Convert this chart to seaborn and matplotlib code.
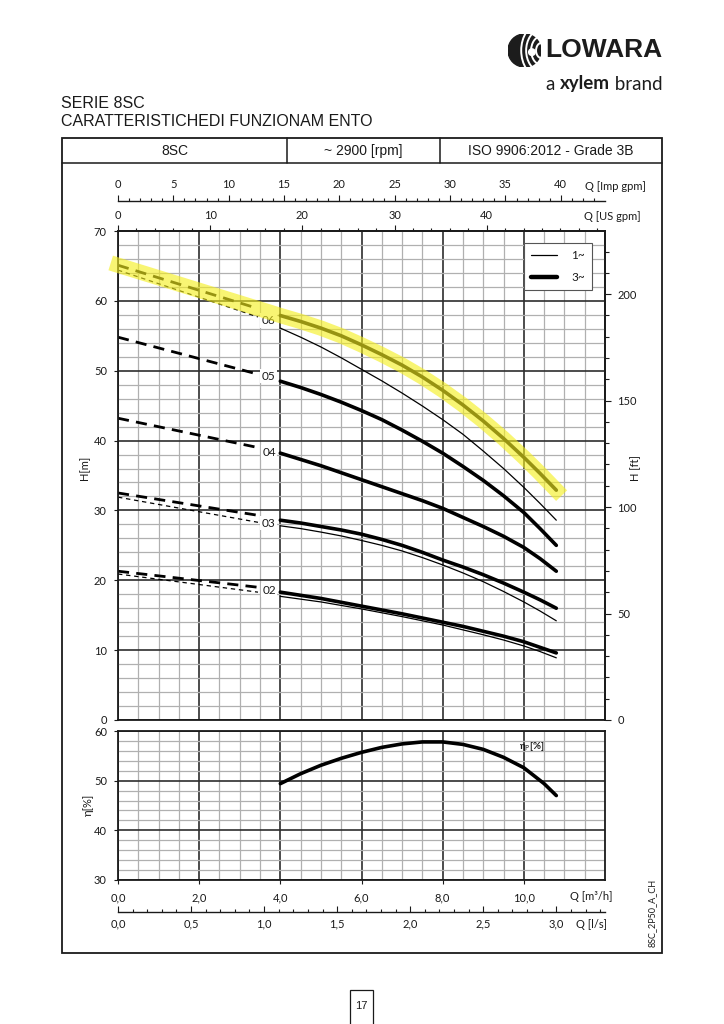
import numpy as np
import pandas as pd
import matplotlib
matplotlib.use("Agg")
import matplotlib.pyplot as plt
import seaborn as sns
from matplotlib.patches import Rectangle, Circle, Arc
from matplotlib.lines import Line2D
from matplotlib.ticker import MultipleLocator, FixedLocator, FixedFormatter

# ---------------- data ----------------
Q_SOLID = [4.0, 4.5, 5.0, 5.5, 6.0, 6.5, 7.0, 7.5, 8.0, 8.5, 9.0, 9.5, 10.0, 10.4, 10.8]   # m3/h
Q_DASH = [0.0, 3.45]

H06_3 = [57.9, 57.05, 56.1, 55.0, 53.7, 52.3, 50.8, 49.1, 47.2, 45.1, 42.8, 40.3, 37.6, 35.3, 32.9]
H06_1 = [56.1, 54.8, 53.4, 51.85, 50.2, 48.55, 46.8, 44.95, 43.0, 40.9, 38.5, 36.0, 33.3, 31.0, 28.6]
H05_3 = [48.5, 47.6, 46.6, 45.5, 44.3, 43.0, 41.5, 39.9, 38.2, 36.3, 34.3, 32.1, 29.7, 27.4, 25.0]
H04_3 = [38.2, 37.3, 36.4, 35.4, 34.4, 33.4, 32.4, 31.4, 30.3, 29.0, 27.7, 26.3, 24.7, 23.1, 21.3]
H03_3 = [28.6, 28.2, 27.7, 27.2, 26.6, 25.85, 25.0, 24.0, 22.9, 21.9, 20.8, 19.6, 18.3, 17.2, 16.0]
H03_1 = [27.8, 27.4, 26.9, 26.35, 25.7, 25.0, 24.2, 23.25, 22.2, 21.05, 19.8, 18.4, 16.9, 15.6, 14.2]
H02_3 = [18.3, 17.85, 17.4, 16.85, 16.3, 15.75, 15.2, 14.6, 14.0, 13.4, 12.7, 12.0, 11.2, 10.4, 9.6]
H02_1 = [17.7, 17.3, 16.9, 16.4, 15.9, 15.35, 14.8, 14.2, 13.6, 12.9, 12.2, 11.45, 10.6, 9.8, 8.9]

D06_3 = [65.1, 58.9]
D06_1 = [64.4, 57.7]
D05_3 = [54.8, 49.5]
D04_3 = [43.2, 39.0]
D03_3 = [32.5, 29.3]
D03_1 = [31.9, 28.3]
D02_3 = [21.3, 19.0]
D02_1 = [20.9, 18.3]

STAGE_LABELS = ["06", "05", "04", "03", "02"]
STAGE_LABEL_H = [57.2, 49.2, 38.3, 28.2, 18.6]

Q_EFF = [4.0, 4.5, 5.0, 5.5, 6.0, 6.5, 7.0, 7.5, 8.0, 8.5, 9.0, 9.5, 10.0, 10.5, 10.8]
ETA = [49.4, 51.4, 53.1, 54.5, 55.7, 56.7, 57.4, 57.8, 57.8, 57.3, 56.3, 54.7, 52.6, 49.4, 47.0]

M3H_TICKS = [0, 2, 4, 6, 8, 10]
M3H_LABELS = ["0,0", "2,0", "4,0", "6,0", "8,0", "10,0"]
LS_TICKS = [0.0, 0.5, 1.0, 1.5, 2.0, 2.5, 3.0]
LS_LABELS = ["0,0", "0,5", "1,0", "1,5", "2,0", "2,5", "3,0"]
IMP_TICKS = [0, 5, 10, 15, 20, 25, 30, 35, 40]
US_TICKS = [0, 10, 20, 30, 40]
H_TICKS = [0, 10, 20, 30, 40, 50, 60, 70]
FT_TICKS = [0, 50, 100, 150, 200]
ETA_TICKS = [30, 40, 50, 60]

IMP = 0.272765   # m3/h per Imp gpm
USG = 0.227125   # m3/h per US gpm
LPS = 3.6        # m3/h per l/s
FT = 3.28084

# ---------------- setup ----------------
sns.set_theme(style="ticks")
plt.rcParams["font.family"] = ["Lato", "DejaVu Sans"]
plt.rcParams["axes.edgecolor"] = "#1a1a1a"
plt.rcParams["xtick.color"] = "#1a1a1a"
plt.rcParams["ytick.color"] = "#1a1a1a"
plt.rcParams["text.color"] = "#1a1a1a"

W, Hh = 724, 1024
fig = plt.figure(figsize=(7.24, 10.24), dpi=100)
fig.patch.set_facecolor("white")


def fx(px):
    return px / W


def fy(py):
    return 1 - py / Hh


def box(x0, y0, x1, y1):
    return [fx(x0), fy(y1), fx(x1) - fx(x0), fy(y0) - fy(y1)]


TICKFS = 8
ARIAL = ["Liberation Sans", "DejaVu Sans"]


def grid_setup(ax, ymaj, ymin):
    ax.xaxis.set_major_locator(MultipleLocator(2))
    ax.xaxis.set_minor_locator(MultipleLocator(0.5))
    ax.yaxis.set_major_locator(MultipleLocator(ymaj))
    ax.yaxis.set_minor_locator(MultipleLocator(ymin))
    ax.grid(which="minor", color="#b0b0b0", lw=0.9)
    ax.grid(which="major", color="#2e2e2e", lw=1.2)
    ax.set_axisbelow(True)
    for s in ax.spines.values():
        s.set_visible(True)
        s.set_linewidth(1.3)
        s.set_color("#1a1a1a")


def line(ax, q, h, lw, ls="-", **kw):
    sns.lineplot(x=q, y=h, ax=ax, color="black", linewidth=lw, linestyle=ls,
                 estimator=None, errorbar=None, sort=False, legend=False, **kw)


# ---------------- main H axes ----------------
ax = fig.add_axes(box(118, 231, 605, 720))
ax.set_xlim(0, 12)
ax.set_ylim(0, 70)
grid_setup(ax, 10, 2)
ax.yaxis.set_major_locator(FixedLocator(H_TICKS))
ax.tick_params(axis="x", which="both", bottom=False, labelbottom=False, top=False)
ax.tick_params(axis="y", which="major", left=True, length=3, width=0.8, pad=5, labelsize=TICKFS)
ax.tick_params(axis="y", which="minor", left=False)
ax.set_xlabel("")
ax.set_ylabel("")

thick, thin = 2.6, 0.9
dash_thick = (0, (4, 2.6))
dash_thin = (0, (3.5, 3))

for h in [H06_3, H05_3, H04_3, H03_3, H02_3]:
    line(ax, Q_SOLID, h, thick, solid_joinstyle="round")
for h in [H06_1, H03_1, H02_1]:
    line(ax, Q_SOLID, h, thin, solid_joinstyle="round")
for h in [D06_3, D05_3, D04_3, D03_3, D02_3]:
    line(ax, Q_DASH, h, 2.0, dash_thick)
for h in [D06_1, D03_1, D02_1]:
    line(ax, Q_DASH, h, 0.9, dash_thin)

for lab, hy in zip(STAGE_LABELS, STAGE_LABEL_H):
    ax.text(3.72, hy, lab, ha="center", va="center", fontsize=8.5, zorder=5,
            bbox=dict(facecolor="white", edgecolor="none", pad=1.2))

# yellow highlight over stage 06 (3~)
q_hl = Q_DASH + Q_SOLID
h_hl = D06_3 + H06_3
sns.lineplot(x=q_hl, y=h_hl, ax=ax, color="#f5ef1e", linewidth=11, alpha=0.62,
             estimator=None, errorbar=None, sort=False, legend=False,
             solid_capstyle="projecting", solid_joinstyle="round", clip_on=False, zorder=6)

# legend
handles = [Line2D([], [], color="black", lw=0.9), Line2D([], [], color="black", lw=3.2)]
leg = ax.legend(handles, ["1~", "3~"], loc="upper right", bbox_to_anchor=(0.973, 0.9755),
                borderaxespad=0.0, frameon=True, fancybox=False, edgecolor="#555555",
                framealpha=1, handlelength=2.2, handletextpad=1.2, labelspacing=0.95,
                borderpad=0.6, fontsize=8.5)
leg.get_frame().set_linewidth(0.8)
leg.set_zorder(7)

# right ft axis
sec_y = ax.secondary_yaxis("right", functions=(lambda m: m * FT, lambda f: f / FT))
sec_y.yaxis.set_major_locator(FixedLocator(FT_TICKS))
sec_y.yaxis.set_minor_locator(MultipleLocator(10))
sec_y.tick_params(which="major", length=4, width=0.8, pad=5, labelsize=TICKFS)
sec_y.tick_params(which="minor", length=3, width=0.8)
sec_y.spines["right"].set_linewidth(1.3)

# top US gpm axis
sec_x = ax.secondary_xaxis("top", functions=(lambda q: q / USG, lambda g: g * USG))
sec_x.xaxis.set_major_locator(FixedLocator(US_TICKS))
sec_x.xaxis.set_minor_locator(MultipleLocator(2))
sec_x.tick_params(which="major", length=4, width=0.8, pad=3, labelsize=TICKFS)
sec_x.tick_params(which="minor", length=2.5, width=0.8)

# Imp gpm axis
ax_imp = fig.add_axes(box(118, 199.5, 605, 200.5))
ax_imp.set_xlim(0, 12 / IMP)
ax_imp.set_ylim(0, 1)
ax_imp.patch.set_visible(False)
for k in ["left", "right", "top"]:
    ax_imp.spines[k].set_visible(False)
ax_imp.spines["bottom"].set_linewidth(1.0)
ax_imp.set_yticks([])
ax_imp.xaxis.set_major_locator(FixedLocator(IMP_TICKS))
ax_imp.xaxis.set_minor_locator(MultipleLocator(1))
ax_imp.tick_params(axis="x", which="both", direction="in", bottom=True, top=False,
                   labelbottom=False, labeltop=True)
ax_imp.tick_params(axis="x", which="major", length=4, width=0.8, pad=7, labelsize=TICKFS)
ax_imp.tick_params(axis="x", which="minor", length=2.5, width=0.8)

# ---------------- efficiency axes ----------------
ae = fig.add_axes(box(118, 731, 605, 880))
ae.set_xlim(0, 12)
ae.set_ylim(30, 60)
grid_setup(ae, 10, 2)
ae.yaxis.set_major_locator(FixedLocator(ETA_TICKS))
ae.xaxis.set_major_locator(FixedLocator(M3H_TICKS))
ae.xaxis.set_major_formatter(FixedFormatter(M3H_LABELS))
ae.tick_params(axis="x", which="major", bottom=True, length=3, width=0.8, pad=6, labelsize=TICKFS)
ae.tick_params(axis="x", which="minor", bottom=False)
ae.tick_params(axis="y", which="major", left=True, length=3, width=0.8, pad=5, labelsize=TICKFS)
ae.tick_params(axis="y", which="minor", left=False)
ae.set_xlabel("")
ae.set_ylabel("")
line(ae, Q_EFF, ETA, 2.6, solid_joinstyle="round")
ae.text(10.2, 56.8, r"η$_{\mathrm{P}}$[%]", ha="center", va="center", fontsize=7, fontweight="bold")

# l/s axis
ax_ls = fig.add_axes(box(118, 910.5, 605, 911.5))
ax_ls.set_xlim(0, 12 / LPS)
ax_ls.set_ylim(0, 1)
ax_ls.patch.set_visible(False)
for k in ["left", "right", "top"]:
    ax_ls.spines[k].set_visible(False)
ax_ls.spines["bottom"].set_linewidth(1.0)
ax_ls.set_yticks([])
ax_ls.xaxis.set_major_locator(FixedLocator(LS_TICKS))
ax_ls.xaxis.set_major_formatter(FixedFormatter(LS_LABELS))
ax_ls.xaxis.set_minor_locator(MultipleLocator(0.1))
ax_ls.tick_params(axis="x", which="both", direction="in", bottom=True, top=False)
ax_ls.tick_params(axis="x", which="major", length=4, width=0.8, pad=5, labelsize=TICKFS)
ax_ls.tick_params(axis="x", which="minor", length=2.5, width=0.8)

# ---------------- axis texts ----------------
fig.text(fx(85), fy(468), "H[m]", rotation=90, ha="center", va="center", fontsize=8)
fig.text(fx(636), fy(468), "H [ft]", rotation=90, ha="center", va="center", fontsize=8)
fig.text(fx(88), fy(805), "η[%]", rotation=90, ha="center", va="center", fontsize=8)
fig.text(fx(591), fy(897), "Q [m³/h]", ha="center", va="center", fontsize=8)
fig.text(fx(591), fy(925), "Q [l/s]", ha="center", va="center", fontsize=8)
fig.text(fx(615), fy(186), "Q [Imp gpm]", ha="center", va="center", fontsize=8)
fig.text(fx(612), fy(216), "Q [US gpm]", ha="center", va="center", fontsize=8)
fig.text(fx(652), fy(913), "8SC_2P50_A_CH", rotation=90, ha="center", va="center", fontsize=6.5)

# ---------------- frame and header ----------------
T = fig.transFigure
fig.patches.append(Rectangle((fx(62), fy(953)), fx(662) - fx(62), fy(138) - fy(953),
                             transform=T, fill=False, lw=1.3, edgecolor="#1a1a1a"))
fig.lines.append(Line2D([fx(62), fx(662)], [fy(163), fy(163)], transform=T, color="#1a1a1a", lw=1.1))
for xv in [287, 440]:
    fig.lines.append(Line2D([fx(xv), fx(xv)], [fy(138), fy(163)], transform=T, color="#1a1a1a", lw=1.1))
fig.text(fx(175), fy(151), "8SC", ha="center", va="center", fontsize=10, family=ARIAL)
fig.text(fx(363), fy(151), "~ 2900 [rpm]", ha="center", va="center", fontsize=10, family=ARIAL)
fig.text(fx(551), fy(151), "ISO 9906:2012 - Grade 3B", ha="center", va="center", fontsize=10, family=ARIAL)

fig.text(fx(61), fy(103), "SERIE 8SC", ha="left", va="center", fontsize=11.5, family=ARIAL)
fig.text(fx(61), fy(121), "CARATTERISTICHEDI FUNZIONAM ENTO", ha="left", va="center",
         fontsize=11.5, family=ARIAL)

# page number
fig.patches.append(Rectangle((fx(350), fy(1030)), fx(373) - fx(350), fy(990) - fy(1030),
                             transform=T, fill=False, lw=0.9, edgecolor="#1a1a1a"))
fig.text(fx(361.5), fy(1006), "17", ha="center", va="center", fontsize=8, family=ARIAL)

# ---------------- logo ----------------
fig.text(fx(545), fy(50), "LOWARA", ha="left", va="center", fontsize=19, fontweight="heavy",
         family=ARIAL, color="#1c1c1c")
al = fig.add_axes(box(508, 34, 541, 67))
al.set_xlim(-1, 1)
al.set_ylim(-1, 1)
al.set_aspect("equal")
al.axis("off")
al.add_patch(Circle((0, 0), 1, color="#1c1c1c"))
for wdt in [0.7, 1.3, 1.9, 2.5]:
    al.add_patch(Arc((1.05, 0), wdt, wdt * 1.35, theta1=95, theta2=265, color="white", lw=1.4))
al.add_patch(Circle((0.45, -0.1), 0.2, color="white"))

fig.canvas.draw()
r = fig.canvas.get_renderer()
ylog = fy(84)
t3 = fig.text(fx(663), ylog, " brand", ha="right", va="center", fontsize=13.5, color="#1c1c1c")
bb = t3.get_window_extent(renderer=r)
x_left = bb.x0 / fig.bbox.width
t2 = fig.text(x_left, ylog, "xylem", ha="right", va="center", fontsize=13.5, fontweight="bold",
              color="#1c1c1c")
bb2 = t2.get_window_extent(renderer=r)
fig.text(bb2.x0 / fig.bbox.width, ylog, "a ", ha="right", va="center", fontsize=13.5, color="#1c1c1c")

fig.savefig("out.png", dpi=100, facecolor="white")
